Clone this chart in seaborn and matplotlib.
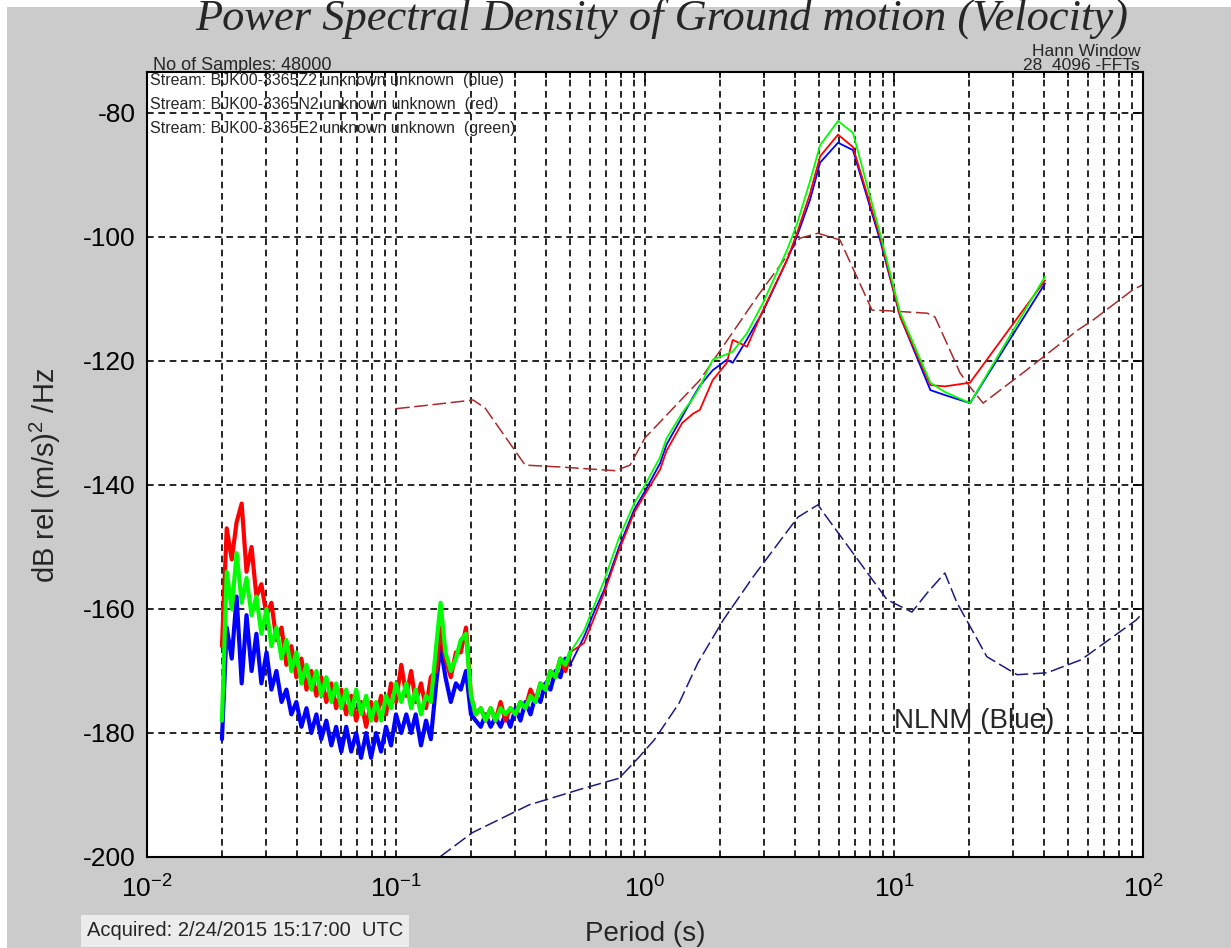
import matplotlib
matplotlib.use("Agg")
import matplotlib.pyplot as plt
from matplotlib.patches import Rectangle
import seaborn as sns

# ---- data ------------------------------------------------------------------
# short-period part (noisy), periods in s, shared by the 3 components
noisy_period = [0.0200, 0.0209, 0.0219, 0.0229, 0.0240, 0.0251, 0.0263, 0.0275, 0.0288, 0.0302,
                0.0316, 0.0331, 0.0347, 0.0363, 0.0380, 0.0398, 0.0417, 0.0437, 0.0457, 0.0479,
                0.0501, 0.0525, 0.0550, 0.0575, 0.0603, 0.0631, 0.0661, 0.0692, 0.0724, 0.0759,
                0.0794, 0.0832, 0.0871, 0.0912, 0.0955, 0.100, 0.105, 0.110, 0.115, 0.120,
                0.126, 0.132, 0.138, 0.145, 0.151, 0.158, 0.166, 0.174, 0.182, 0.191,
                0.200, 0.209, 0.219, 0.229, 0.240, 0.251, 0.263, 0.275, 0.288, 0.302,
                0.316, 0.331, 0.347, 0.363, 0.380, 0.398, 0.417, 0.437, 0.457, 0.479, 0.501]

z_noisy = [-181, -163, -168, -158, -172, -161, -170, -164, -172, -167,
           -173, -170, -175, -173, -177, -175, -179, -176, -180, -177,
           -181, -178, -182, -179, -183, -179, -183, -180, -184, -180,
           -184, -180, -183, -179, -182, -177, -180, -177, -180, -177,
           -182, -178, -181, -172, -166, -171, -175, -172, -173, -170,
           -177, -178, -179, -177, -179, -177.5, -179, -177, -179, -176,
           -178, -175, -177, -174, -175, -172, -173, -170, -171, -168, -169]

n_noisy = [-166, -147, -152, -146, -143, -154, -150, -158, -156, -161,
           -159, -165, -163, -169, -166, -171, -168, -173, -170, -174,
           -171, -175, -172, -176, -173, -177, -174, -178, -175, -179,
           -175, -178, -174, -177, -172, -175, -169, -174, -170, -175,
           -172, -176, -171, -170, -163, -168, -171, -167, -167, -163,
           -174, -177, -176, -178, -176, -178, -175, -178, -176, -177,
           -175, -176, -173, -175, -172, -173, -170, -171, -168, -170, -167]

e_noisy = [-178, -154, -160, -151, -159, -155, -161, -158, -164, -160,
           -166, -163, -168, -165, -170, -167, -172, -169, -173, -170,
           -174, -171, -175, -172, -176, -173, -177, -173, -177, -174,
           -178, -175, -178, -174, -176, -172, -175, -172, -176, -173,
           -177, -174, -175, -166, -159, -167, -170, -168, -165, -164,
           -174, -177, -176, -178, -176, -178, -176, -177, -176, -177,
           -175, -176, -174, -175, -172, -173, -170, -171, -168, -169, -167]

# longer periods (few FFT bins, smooth)
smooth_period = [0.569, 0.624, 0.684, 0.787, 0.904, 1.00, 1.15, 1.22, 1.41, 1.56,
                 1.66, 1.87, 2.13, 2.25, 2.57, 2.98, 3.72, 4.07, 4.60, 5.05,
                 5.96, 6.84, 8.79, 10.6, 14.0, 16.0, 20.2, 40.4]
z_smooth = [-164.5, -160.5, -157.0, -150.0, -144.0, -141.0, -136.5, -133.5, -129.0, -125.8,
            -124.0, -121.5, -119.8, -120.3, -116.5, -112.0, -103.7, -100.0, -94.0, -88.0,
            -84.8, -86.0, -100.5, -112.9, -124.7, -125.5, -126.8, -107.5]
n_smooth = [-165.5, -161.5, -157.5, -150.5, -144.5, -141.5, -137.5, -134.5, -130.0, -128.5,
            -127.9, -123.1, -120.3, -116.6, -117.7, -111.8, -103.7, -99.5, -93.0, -87.0,
            -83.5, -85.5, -100.0, -112.9, -123.9, -124.1, -123.5, -107.0]
e_smooth = [-163.5, -159.5, -155.5, -148.5, -143.0, -140.0, -135.5, -132.5, -128.4, -126.0,
            -124.2, -119.8, -118.9, -118.5, -115.5, -110.6, -102.1, -98.0, -91.0, -85.2,
            -81.3, -83.2, -99.4, -112.3, -123.5, -125.0, -126.8, -106.4]

# Peterson noise models
nhnm_period = [0.100, 0.137, 0.204, 0.228, 0.330, 0.456, 0.759, 0.871, 1.00, 1.66,
               2.85, 4.19, 4.95, 6.07, 8.16, 9.37, 13.6, 14.6, 17.1, 18.4,
               20.2, 22.8, 33.0, 38.5, 54.8, 63.0, 91.2, 100]
nhnm_db = [-127.7, -127.1, -126.3, -127.6, -136.8, -137.1, -137.7, -136.8, -132.4, -123.1,
           -109.4, -100.2, -99.4, -100.5, -111.8, -111.9, -112.3, -112.9, -119.0, -121.9,
           -124.2, -126.8, -121.9, -119.8, -115.0, -113.4, -108.5, -107.7]

nlnm_period = [0.150, 0.202, 0.342, 0.569, 0.787, 0.946, 1.09, 1.37, 1.63, 2.06,
               2.72, 3.58, 4.11, 4.95, 5.28, 7.17, 9.37, 11.8, 13.6, 16.0,
               17.9, 23.6, 31.2, 41.1, 56.4, 93.8, 100]
nlnm_db = [-200.0, -196.1, -191.6, -188.9, -187.3, -183.9, -181.1, -175.2, -168.7, -161.8,
           -154.8, -148.4, -145.2, -143.2, -144.8, -152.1, -158.5, -160.5, -157.4, -154.2,
           -159.0, -167.7, -170.6, -170.3, -168.2, -161.8, -160.6]

stream_labels = ["Stream: BJK00-3365Z2 unknown unknown  (blue)",
                 "Stream: BJK00-3365N2 unknown unknown  (red)",
                 "Stream: BJK00-3365E2 unknown unknown  (green)"]
yticks = [-200, -180, -160, -140, -120, -100, -80]

# ---- style -----------------------------------------------------------------
sns.set_style("white")
plt.rcParams["font.family"] = ["Liberation Sans", "DejaVu Sans"]
plt.rcParams["mathtext.fontset"] = "custom"
plt.rcParams["mathtext.rm"] = "Liberation Sans"
plt.rcParams["mathtext.default"] = "regular"
plt.rcParams["axes.unicode_minus"] = False

W, H = 1231, 948
fig = plt.figure(figsize=(W / 100, H / 100), dpi=100, facecolor="#cbcbcb")
ax = fig.add_axes([147 / W, 1 - 857 / H, 996 / W, 785 / H])
ax.set_facecolor("white")

# noise models (dashed)
sns.lineplot(x=nhnm_period, y=nhnm_db, ax=ax, color="#a82a2a", linewidth=1.1,
             linestyle=(0, (9, 3)), estimator=None, sort=False)
sns.lineplot(x=nlnm_period, y=nlnm_db, ax=ax, color="#1c1c80", linewidth=1.1,
             linestyle=(0, (9, 3)), estimator=None, sort=False)

# the three components: blue Z, red N, green E (green on top)
for noisy, smooth, col in [(z_noisy, z_smooth, "#0000ff"),
                           (n_noisy, n_smooth, "#ff0000"),
                           (e_noisy, e_smooth, "#00ff00")]:
    sns.lineplot(x=noisy_period, y=noisy, ax=ax, color=col, linewidth=3.0,
                 estimator=None, sort=False)
    sns.lineplot(x=noisy_period[-1:] + smooth_period, y=noisy[-1:] + smooth, ax=ax,
                 color=col, linewidth=1.3, estimator=None, sort=False)

ax.set_xscale("log")
ax.set_xlim(0.01, 100)
ax.set_ylim(-200, -73.4)
ax.set_yticks(yticks)
ax.set_xlabel("")
ax.set_ylabel("")

grid_ls = (0, (4, 2.8))
ax.grid(True, which="major", axis="both", color="k", linestyle=grid_ls, linewidth=1.2)
ax.grid(True, which="minor", axis="x", color="k", linestyle=grid_ls, linewidth=1.2)
ax.set_axisbelow(True)

ax.tick_params(which="both", direction="in", top=True, right=True, width=1.2, color="k",
               labelsize=19, labelcolor="k")
ax.tick_params(which="major", length=7)
ax.tick_params(which="minor", length=4)
ax.tick_params(axis="x", pad=13)
ax.tick_params(axis="y", pad=8)
for sp in ax.spines.values():
    sp.set_color("k")
    sp.set_linewidth(1.5)

# ---- texts -----------------------------------------------------------------
fig.text(662 / W, 1 - 31 / H, "Power Spectral Density of Ground motion (Velocity)",
         family="Liberation Serif", style="italic", fontsize=32, ha="center", va="baseline")
fig.text(153 / W, 1 - 70 / H, "No of Samples: 48000", fontsize=13, va="baseline")
fig.text(1140 / W, 1 - 56 / H, "Hann Window", fontsize=12.5, ha="right", va="baseline")
fig.text(1140 / W, 1 - 70 / H, "28  4096 -FFTs", fontsize=12.5, ha="right", va="baseline")
for i, lab in enumerate(stream_labels):
    fig.text(150 / W, 1 - (81 + 23.5 * i) / H, lab, fontsize=11.5, va="center")

ax.text(10.0, -178, "NLNM (Blue)", fontsize=20, ha="left", va="center")

fig.text(45 / W, 1 - 475 / H, "dB rel (m/s)$^2$ /Hz", fontsize=21, rotation=90,
         ha="center", va="center")
fig.text(645 / W, 1 - 934 / H, "Period (s)", fontsize=20, ha="center", va="center")
fig.text(245 / W, 1 - 931 / H, "Acquired: 2/24/2015 15:17:00  UTC", fontsize=14.5,
         ha="center", va="center",
         bbox=dict(boxstyle="square,pad=0.3", facecolor="#ececec", edgecolor="none"))

# thin white screen border (top/left) as in the capture
fig.add_artist(Rectangle((0, 1 - 7 / H), 1, 7 / H, transform=fig.transFigure,
                         facecolor="white", edgecolor="none"))
fig.add_artist(Rectangle((0, 0), 7 / W, 1, transform=fig.transFigure,
                         facecolor="white", edgecolor="none"))

fig.savefig("out.png", dpi=100, facecolor=fig.get_facecolor())
